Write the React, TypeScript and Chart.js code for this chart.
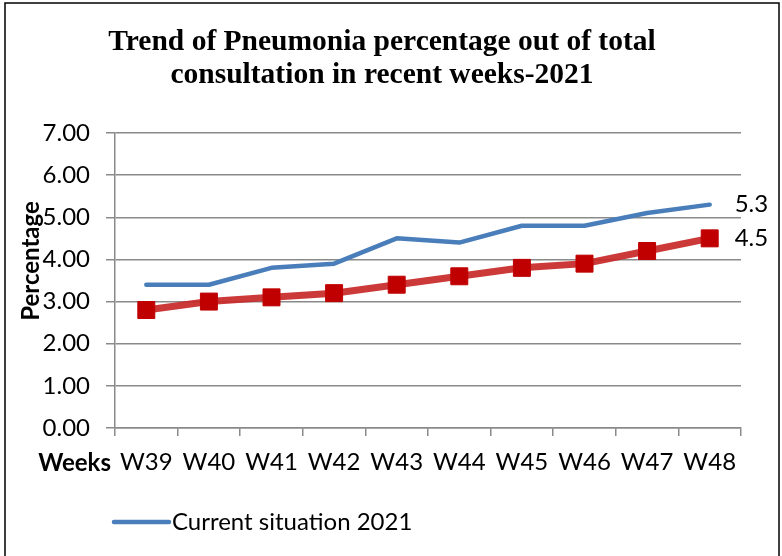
import React, { useEffect, useRef } from "react";
import { Chart, registerables } from "chart.js";

Chart.register(...registerables);

const weeks = ["W39", "W40", "W41", "W42", "W43", "W44", "W45", "W46", "W47", "W48"];
const currentSituation2021 = [3.4, 3.4, 3.8, 3.9, 4.5, 4.4, 4.8, 4.8, 5.1, 5.3];
const pneumoniaTrend = [2.8, 3.0, 3.1, 3.2, 3.4, 3.6, 3.8, 3.9, 4.2, 4.5];
const yMin = 0;
const yMax = 7;
const yStep = 1;
const titleLines = ["Trend of Pneumonia percentage out of total", "consultation in recent weeks-2021"];
const yAxisTitle = "Percentage";
const xAxisTitle = "Weeks";
const legendLabel = "Current situation 2021";

const SANS = "Lato, 'Open Sans', sans-serif";
const FS = 24;

const decorPlugin = {
  id: "decor",
  afterDraw(chart: any) {
    const ctx = chart.ctx;
    ctx.save();
    // outer border
    ctx.strokeStyle = "#000";
    ctx.lineWidth = 1.5;
    ctx.strokeRect(5, 3, 774, 560);
    // title
    ctx.fillStyle = "#000";
    ctx.font = "bold 29.5px 'Liberation Serif', 'Times New Roman', serif";
    ctx.textAlign = "center";
    ctx.textBaseline = "middle";
    ctx.fillText(titleLines[0], 382, 42);
    ctx.fillText(titleLines[1], 382, 75);
    // y axis title
    ctx.save();
    ctx.translate(31, 261);
    ctx.rotate(-Math.PI / 2);
    ctx.font = `bold ${FS}px ${SANS}`;
    ctx.textAlign = "center";
    ctx.textBaseline = "middle";
    ctx.fillText(yAxisTitle, 0, 0);
    ctx.restore();
    // x axis title
    ctx.font = `bold ${FS}px ${SANS}`;
    ctx.textAlign = "right";
    ctx.textBaseline = "middle";
    ctx.fillText(xAxisTitle, 111, 463);
    // end data labels
    ctx.font = `${FS}px ${SANS}`;
    ctx.textAlign = "left";
    chart.data.datasets.forEach((ds: any, i: number) => {
      const meta = chart.getDatasetMeta(i);
      const last = meta.data[meta.data.length - 1];
      const v = ds.data[ds.data.length - 1];
      ctx.fillText(String(v), last.x + 25, last.y);
    });
    // legend (first dataset only)
    const ds0 = chart.data.datasets[0];
    ctx.strokeStyle = ds0.borderColor;
    ctx.lineWidth = 4.5;
    ctx.lineCap = "round";
    ctx.beginPath();
    ctx.moveTo(114, 522);
    ctx.lineTo(169, 522);
    ctx.stroke();
    ctx.font = `${FS}px ${SANS}`;
    ctx.textAlign = "left";
    ctx.fillText(legendLabel, 172, 522);
    ctx.restore();
  },
};

export default function App() {
  const ref = useRef<HTMLCanvasElement>(null);
  useEffect(() => {
    if (!ref.current) return;
    const gridColor = "#8a8a8a";
    const chart = new Chart(ref.current, {
      type: "line",
      data: {
        labels: weeks,
        datasets: [
          {
            label: legendLabel,
            data: currentSituation2021,
            borderColor: "#4a7ebb",
            backgroundColor: "#4a7ebb",
            borderWidth: 4.5,
            pointRadius: 0,
            tension: 0,
            borderCapStyle: "round",
            borderJoinStyle: "round",
          },
          {
            label: "Pneumonia percentage",
            data: pneumoniaTrend,
            borderColor: "rgba(200,40,40,0.92)",
            backgroundColor: "#c00000",
            borderWidth: 7,
            pointStyle: "rect",
            pointRadius: 12,
            pointBorderWidth: 1,
            pointBorderColor: "#c00000",
            pointBackgroundColor: "#c00000",
            tension: 0,
          },
        ],
      },
      options: {
        responsive: false,
        animation: false,
        layout: { padding: { left: 0, right: 41, top: 133, bottom: 0 } },
        plugins: {
          legend: { display: false },
          title: { display: false },
          tooltip: { enabled: false },
        },
        scales: {
          x: {
            type: "category",
            offset: true,
            grid: {
              offset: true,
              drawOnChartArea: false,
              drawTicks: true,
              tickLength: 8,
              color: gridColor,
              lineWidth: 1.5,
            },
            border: { display: true, color: gridColor, width: 1.5 },
            ticks: {
              color: "#000",
              font: { family: SANS, size: FS },
              padding: 12,
              maxRotation: 0,
              autoSkip: false,
            },
            afterFit: (s: any) => {
              s.height = 128;
            },
          },
          y: {
            min: yMin,
            max: yMax,
            ticks: {
              stepSize: yStep,
              color: "#000",
              font: { family: SANS, size: FS },
              padding: 16,
              callback: (v: any) => Number(v).toFixed(2),
            },
            grid: { color: gridColor, lineWidth: 1.5, tickLength: 9 },
            border: { display: true, color: gridColor, width: 1.5 },
            afterFit: (s: any) => {
              s.width = 115;
            },
          },
        },
      },
      plugins: [decorPlugin],
    });
    return () => chart.destroy();
  }, []);
  return (
    <div style={{ position: "absolute", left: 0, top: 0, width: 782, height: 556, background: "#fff" }}>
      <canvas ref={ref} width={782} height={556} style={{ display: "block" }} />
    </div>
  );
}
